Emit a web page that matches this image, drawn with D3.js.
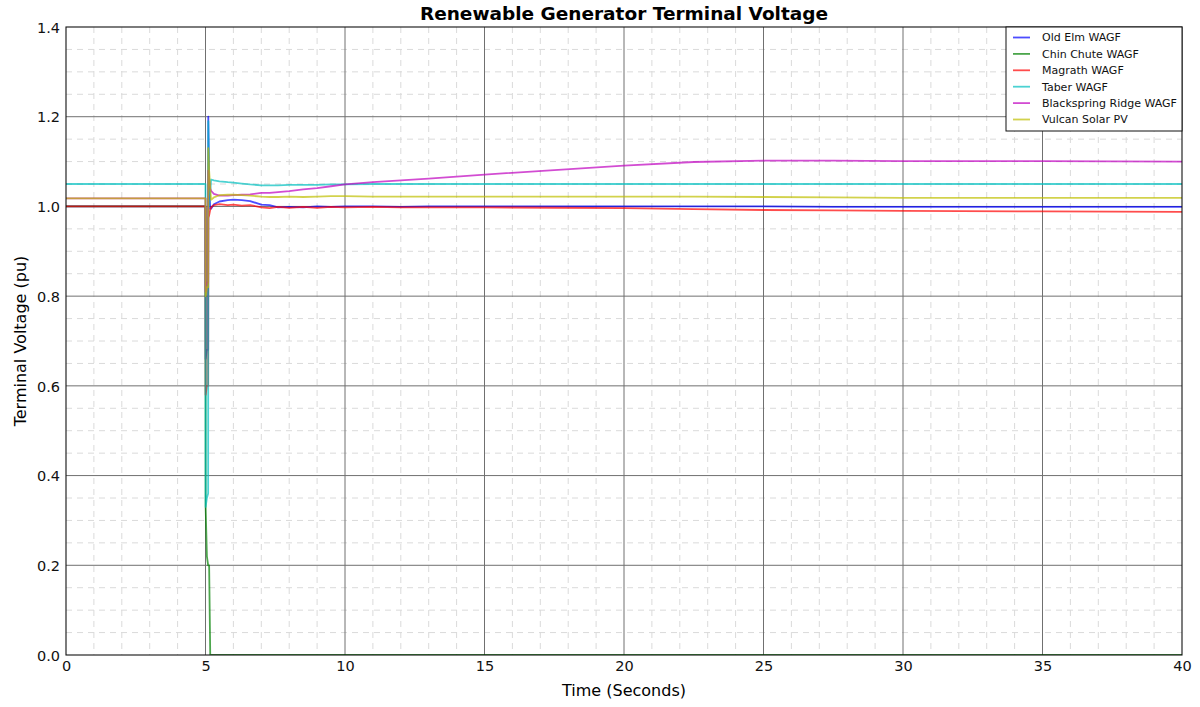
<!DOCTYPE html>
<html>
<head>
<meta charset="utf-8">
<script src="https://cdn.jsdelivr.net/npm/d3@7"></script>
<style>
  body { margin: 0; background: #fff; }
  svg { display: block; font-family: "DejaVu Sans", sans-serif; }
</style>
</head>
<body>
<svg id="chart" width="1200" height="707"></svg>
<script>
// Simulation time stamps (seconds), shared by every generator trace
const time = [0, 4.99, 5.0, 5.005, 5.05, 5.095, 5.1, 5.13, 5.17, 5.2, 5.3, 5.5, 5.8, 6.0, 6.3, 6.6, 7.0, 7.3, 7.6, 8.0, 8.5, 9.0, 9.5, 10, 11, 12, 13, 15, 17.5, 20, 22.5, 25, 27.5, 30, 35, 40];

// Terminal voltage (pu) per generator
const oldElm      = [1.0, 1.0, 1.0, 0.66, 0.68, 0.68, 1.2, 1.05, 0.995, 0.995, 1.005, 1.011, 1.014, 1.015, 1.014, 1.012, 1.004, 1.003, 0.998, 0.999, 0.998, 1.0, 0.999, 1.0, 1.0, 0.999, 1.0, 1.0, 1.0, 1.0, 1.0, 1.0, 0.999, 0.999, 0.999, 0.999];
const chinChute   = [1.0, 1.0, 1.0, 0.33, 0.22, 0.2, 0.2, 0.2, 0.0, 0.0, 0.0, 0.0, 0.0, 0.0, 0.0, 0.0, 0.0, 0.0, 0.0, 0.0, 0.0, 0.0, 0.0, 0.0, 0.0, 0.0, 0.0, 0.0, 0.0, 0.0, 0.0, 0.0, 0.0, 0.0, 0.0, 0.0];
const magrath     = [1.0, 1.0, 1.0, 0.58, 0.6, 0.6, 0.975, 0.98, 0.993, 0.998, 1.003, 1.005, 1.003, 1.004, 1.002, 1.003, 0.998, 0.996, 0.999, 0.997, 0.999, 0.997, 0.999, 0.998, 0.999, 0.998, 0.998, 0.998, 0.997, 0.996, 0.994, 0.992, 0.991, 0.99, 0.989, 0.988];
const taber       = [1.05, 1.05, 1.05, 0.33, 0.35, 0.36, 1.19, 1.0, 1.03, 1.06, 1.058, 1.056, 1.054, 1.053, 1.051, 1.049, 1.047, 1.047, 1.047, 1.048, 1.048, 1.048, 1.049, 1.049, 1.05, 1.05, 1.05, 1.05, 1.05, 1.05, 1.05, 1.05, 1.05, 1.05, 1.05, 1.05];
const blackspring = [1.018, 1.018, 1.018, 0.81, 0.83, 0.83, 1.08, 1.06, 1.04, 1.035, 1.028, 1.024, 1.024, 1.025, 1.026, 1.027, 1.03, 1.03, 1.032, 1.034, 1.038, 1.041, 1.045, 1.049, 1.054, 1.058, 1.062, 1.071, 1.081, 1.091, 1.099, 1.102, 1.102, 1.101, 1.101, 1.1];
const vulcan      = [1.018, 1.018, 1.018, 0.8, 0.82, 0.82, 1.13, 1.08, 1.04, 1.015, 1.02, 1.025, 1.026, 1.026, 1.025, 1.024, 1.022, 1.021, 1.021, 1.022, 1.021, 1.022, 1.023, 1.023, 1.022, 1.022, 1.022, 1.022, 1.022, 1.022, 1.022, 1.021, 1.02, 1.019, 1.019, 1.019];

const seriesNames  = ["Old Elm WAGF", "Chin Chute WAGF", "Magrath WAGF", "Taber WAGF", "Blackspring Ridge WAGF", "Vulcan Solar PV"];
const seriesValues = [oldElm, chinChute, magrath, taber, blackspring, vulcan];
const seriesColors = ["#0000ff", "#008000", "#ff0000", "#00bfbf", "#bf00bf", "#bfbf00"];

const xTicks = [0, 5, 10, 15, 20, 25, 30, 35, 40];
const yTicks = [0.0, 0.2, 0.4, 0.6, 0.8, 1.0, 1.2, 1.4];

const svg = d3.select("#chart");
const plotL = 66, plotR = 1182, plotT = 27, plotB = 655;

const x = d3.scaleLinear().domain([0, 40]).range([plotL, plotR]);
const y = d3.scaleLinear().domain([0, 1.4]).range([plotB, plotT]);

// Minor grid (dashed)
const gMinor = svg.append("g");
gMinor.selectAll("line.vx").data(d3.range(0, 41, 1).filter(v => v % 5 !== 0))
  .join("line").attr("class", "vx").attr("x1", d => x(d)).attr("x2", d => x(d)).attr("y1", plotT).attr("y2", plotB);
gMinor.selectAll("line.hy").data(d3.range(0, 29).map(i => i * 0.05).filter((v, i) => i % 4 !== 0))
  .join("line").attr("class", "hy").attr("x1", plotL).attr("x2", plotR).attr("y1", d => y(d)).attr("y2", d => y(d));
gMinor.selectAll("line").attr("stroke", "#dadada").attr("stroke-width", 1).attr("stroke-dasharray", "6,5");

// Major grid (solid)
const gMajor = svg.append("g");
gMajor.selectAll("line.v").data(xTicks.slice(1, -1)).join("line").attr("class", "v")
  .attr("x1", d => x(d)).attr("x2", d => x(d)).attr("y1", plotT).attr("y2", plotB);
gMajor.selectAll("line.h").data(yTicks.slice(1, -1)).join("line").attr("class", "h")
  .attr("x1", plotL).attr("x2", plotR).attr("y1", d => y(d)).attr("y2", d => y(d));
gMajor.selectAll("line").attr("stroke", "#707070").attr("stroke-width", 1);

// Traces
svg.append("clipPath").attr("id", "plotclip").append("rect")
  .attr("x", plotL).attr("y", plotT).attr("width", plotR - plotL).attr("height", plotB - plotT);
const line = d3.line().x((d, i) => x(time[i])).y(d => y(d));
svg.append("g").attr("clip-path", "url(#plotclip)")
  .selectAll("path").data(seriesValues).join("path")
  .attr("d", d => line(d))
  .attr("fill", "none")
  .attr("stroke", (d, i) => seriesColors[i])
  .attr("stroke-opacity", 0.7)
  .attr("stroke-width", 1.8)
  .attr("stroke-linejoin", "round");

// Axes
const xAxis = d3.axisBottom(x).tickValues(xTicks).tickFormat(d3.format("d")).tickSize(0).tickPadding(6);
const yAxis = d3.axisLeft(y).tickValues(yTicks).tickFormat(d3.format(".1f")).tickSize(0).tickPadding(6);
const gx = svg.append("g").attr("transform", `translate(0,${plotB})`).call(xAxis);
const gy = svg.append("g").attr("transform", `translate(${plotL},0)`).call(yAxis);
[gx, gy].forEach(g => {
  g.select(".domain").remove();
  g.selectAll("text").attr("font-size", "14.5px").attr("fill", "#111").attr("font-family", "DejaVu Sans, sans-serif");
});
gy.selectAll("text").attr("dy", "0.36em");

// Frame
svg.append("rect").attr("x", plotL).attr("y", plotT).attr("width", plotR - plotL).attr("height", plotB - plotT)
  .attr("fill", "none").attr("stroke", "#111").attr("stroke-width", 1.1);

// Titles
svg.append("text").attr("x", (plotL + plotR) / 2).attr("y", 20).attr("text-anchor", "middle")
  .attr("font-size", "18.5px").attr("font-weight", "bold").text("Renewable Generator Terminal Voltage");
svg.append("text").attr("x", (plotL + plotR) / 2).attr("y", 696).attr("text-anchor", "middle")
  .attr("font-size", "16px").text("Time (Seconds)");
svg.append("text").attr("transform", `translate(26,${(plotT + plotB) / 2}) rotate(-90)`).attr("text-anchor", "middle")
  .attr("font-size", "16px").text("Terminal Voltage (pu)");

// Legend
const lg = svg.append("g");
lg.append("rect").attr("x", 1006).attr("y", plotT).attr("width", plotR - 1006).attr("height", 104)
  .attr("fill", "#fff").attr("stroke", "#111").attr("stroke-width", 1);
const items = lg.selectAll("g.item").data(seriesNames).join("g").attr("class", "item")
  .attr("transform", (d, i) => `translate(0,${37.5 + i * 16.4})`);
items.append("line").attr("x1", 1013).attr("x2", 1030).attr("y1", 0).attr("y2", 0)
  .attr("stroke", (d, i) => seriesColors[i]).attr("stroke-opacity", 0.7).attr("stroke-width", 1.8);
items.append("text").attr("x", 1042).attr("y", 0).attr("dy", "0.35em")
  .attr("font-size", "11px").attr("fill", "#111").text(d => d);
</script>
</body>
</html>
